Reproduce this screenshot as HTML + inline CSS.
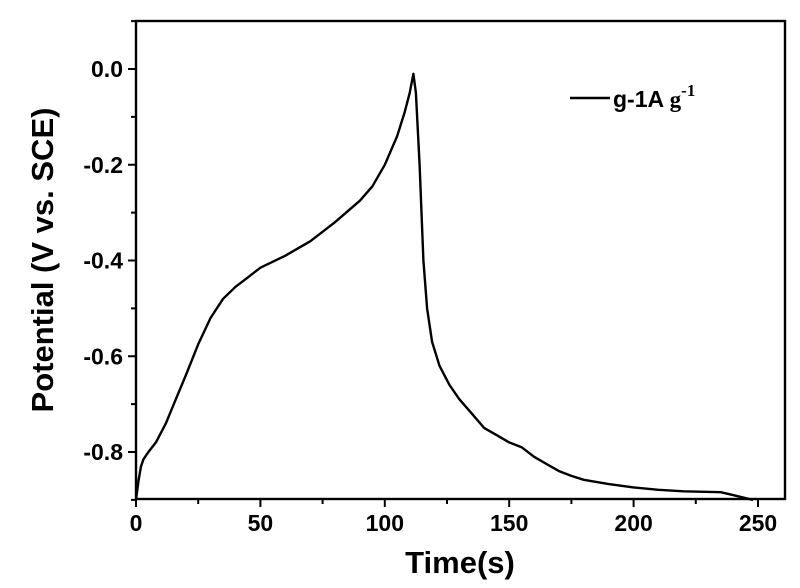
<!DOCTYPE html>
<html><head><meta charset="utf-8"><style>
html,body{margin:0;padding:0;background:#fff;}
svg{display:block;font-family:"Liberation Sans",Arial,sans-serif;}
</style></head><body>
<svg id="chart" width="800" height="588" viewBox="0 0 800 588">
<g id="axes"></g>
<path id="curve" fill="none" stroke="#000" stroke-width="2.4" stroke-linejoin="round"/>
<g>
<line x1="570" y1="98" x2="610" y2="98" stroke="#000" stroke-width="2.4"/>
<text x="613" y="107" font-size="23" font-weight="bold">g-1A <tspan font-family="Liberation Serif,serif">g</tspan><tspan font-family="Liberation Serif,serif" font-size="17" dy="-11">-1</tspan></text>
</g>
<text x="460" y="573" font-size="31" font-weight="bold" text-anchor="middle">Time(s)</text>
<text transform="translate(53,260) rotate(-90)" font-size="31" font-weight="bold" text-anchor="middle">Potential (V vs. SCE)</text>
</svg>
<script>
const times=[0,1,2,3,5,8,12,16,20,25,30,35,40,45,50,60,70,80,90,95,100,105,108,110,111.5,112.5,114,115.5,117,119,122,126,130,135,140,145,150,155,160,165,170,175,180,190,200,210,220,235,240,248];
const potentials=[-0.9,-0.86,-0.83,-0.815,-0.8,-0.78,-0.74,-0.69,-0.64,-0.575,-0.52,-0.48,-0.455,-0.435,-0.415,-0.39,-0.36,-0.32,-0.275,-0.245,-0.2,-0.14,-0.09,-0.05,-0.01,-0.05,-0.2,-0.4,-0.5,-0.57,-0.62,-0.66,-0.69,-0.72,-0.75,-0.765,-0.78,-0.79,-0.81,-0.825,-0.84,-0.85,-0.858,-0.867,-0.874,-0.879,-0.882,-0.884,-0.89,-0.9];
const xTicks=[0,50,100,150,200,250];
const xMinor=[25,75,125,175,225];
const yTicks=[0.0,-0.2,-0.4,-0.6,-0.8];
const yMinor=[0.1,-0.1,-0.3,-0.5,-0.7,-0.9];
const L=136,R=785,T=21,B=499;
const xs=t=>L+t*(758-136)/250;
const ys=v=>69+(0-v)*(452-69)/0.8;
const ns="http://www.w3.org/2000/svg";
const ax=document.getElementById('axes');
function mk(tag,attrs,txt){const e=document.createElementNS(ns,tag);for(const k in attrs)e.setAttribute(k,attrs[k]);if(txt!==undefined)e.textContent=txt;ax.appendChild(e);return e;}
const fr=mk('rect',{x:L,y:T,width:R-L,height:B-T,fill:'none',stroke:'#000','stroke-width':2.4});


xTicks.forEach(t=>{const l=mk('line',{x1:xs(t),x2:xs(t),y1:B,y2:B+8,stroke:'#000','stroke-width':2});


const tx=mk('text',{x:xs(t),y:B+32,'font-size':23,'font-weight':'bold','text-anchor':'middle'},String(t));

});
xMinor.forEach(t=>{const l=mk('line',{x1:xs(t),x2:xs(t),y1:B,y2:B+5,stroke:'#000','stroke-width':2});

});
yTicks.forEach(v=>{const l=mk('line',{x1:L-8,x2:L,y1:ys(v),y2:ys(v),stroke:'#000','stroke-width':2});


const tx=mk('text',{x:L-13,y:ys(v)+8,'font-size':23,'font-weight':'bold','text-anchor':'end'},v.toFixed(1));

});
yMinor.forEach(v=>{const l=mk('line',{x1:L-5,x2:L,y1:ys(v),y2:ys(v),stroke:'#000','stroke-width':2});

});
let d='';times.forEach((t,i)=>{d+=(i?'L':'M')+xs(t).toFixed(1)+','+ys(potentials[i]).toFixed(1);});
document.getElementById('curve').setAttribute('d',d);
</script>
</body></html>
